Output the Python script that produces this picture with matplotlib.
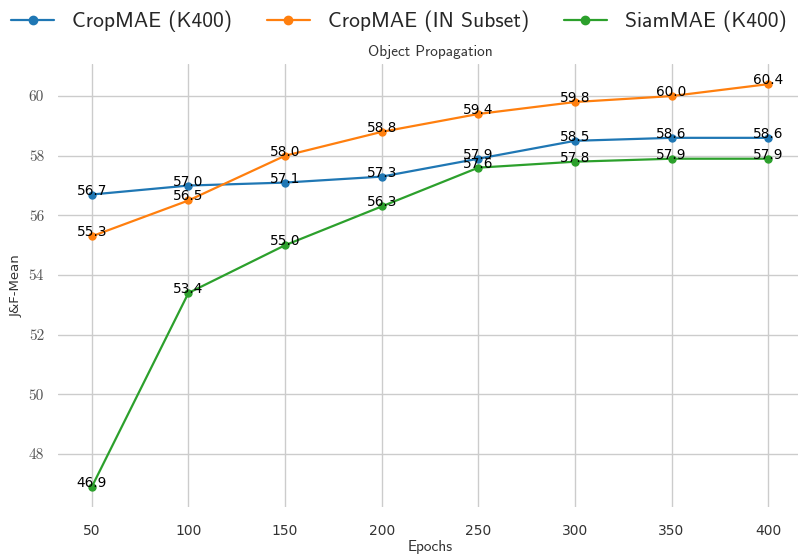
#!/usr/bin/env python3

import matplotlib
matplotlib.use("Agg")
import matplotlib.pyplot as plt
import seaborn as sns

epochs = [50, 100, 150, 200, 250, 300, 350, 400]
cropmae_k400 = [56.7, 57.0, 57.1, 57.3, 57.9, 58.5, 58.6, 58.6]
cropmae_in = [55.3, 56.5, 58.0, 58.8, 59.4, 59.8, 60.0, 60.4]
siammae_k400 = [46.9, 53.4, 55.0, 56.3, 57.6, 57.8, 57.9, 57.9]
labels = ["CropMAE (K400)", "CropMAE (IN Subset)", "SiamMAE (K400)"]
yticks = [48, 50, 52, 54, 56, 58, 60]

sns.set_style("whitegrid")
plt.rcParams['font.family'] = ['cmss10', 'DejaVu Sans']
plt.rcParams['axes.unicode_minus'] = False

fig = plt.figure(figsize=(7.98, 5.56), dpi=100)
ax = fig.add_axes([58 / 798, 1 - 507 / 556, 744 / 798, 443 / 556])

series = [cropmae_k400, cropmae_in, siammae_k400]
colors = ["tab:blue", "tab:orange", "tab:green"]
handles = []
for ys, lab, col in zip(series, labels, colors):
    h, = ax.plot(epochs, ys, marker='o', markersize=5, linewidth=1.6, color=col, label=lab)
    handles.append(h)
    # value labels sit on the point
    for x, y in zip(epochs, ys):
        ax.text(x, y, f"{y:.1f}", ha='center', va='baseline', fontsize=9.8,
                family='DejaVu Sans', color='black')

ax.set_xticks(epochs)
ax.set_yticks(yticks)
ax.set_yticklabels([str(v) for v in yticks])
for lbl in ax.get_yticklabels():
    lbl.set_fontfamily('cmr10')
    lbl.set_fontsize(11)
    lbl.set_color('#555555')
for lbl in ax.get_xticklabels():
    lbl.set_fontfamily('DejaVu Sans')
    lbl.set_fontsize(10)
    lbl.set_color('#333333')

for s in ax.spines.values():
    s.set_visible(False)
ax.tick_params(axis='x', length=0, pad=12)
ax.tick_params(axis='y', length=0, pad=10)
ax.grid(True, color='#cccccc', linewidth=1.0)

ax.set_xlabel("Epochs", fontsize=11, labelpad=2, color='#333333')
ax.set_ylabel("J&F-Mean", fontsize=9.5, family='DejaVu Sans', color='#333333')
ax.yaxis.set_label_coords(-0.047, 0.5)
ax.set_title("Object Propagation", fontsize=11, pad=6, color='#333333')

fig.legend(handles=handles, labels=labels, loc='upper center', ncol=3,
           bbox_to_anchor=(0.5, 1.0), frameon=False, fontsize=15.5,
           handlelength=2.0, handletextpad=0.85, columnspacing=1.6,
           borderaxespad=0.1, markerscale=1.2)

fig.savefig("out.png", dpi=100)
